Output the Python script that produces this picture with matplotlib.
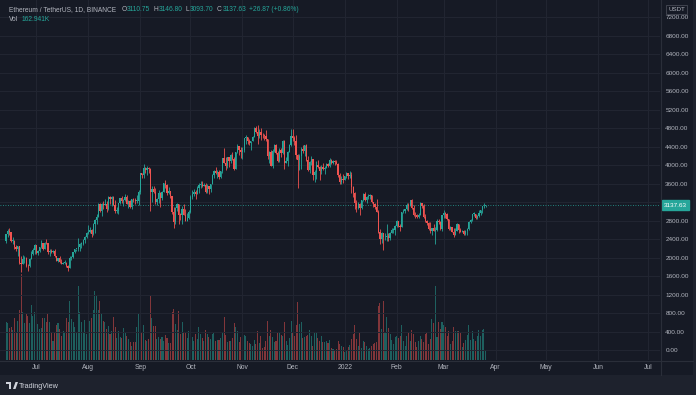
import pandas as pd
import matplotlib
matplotlib.use("Agg")
import matplotlib.pyplot as plt
import matplotlib.dates as mdates
import matplotlib.transforms as mtransforms
from matplotlib.patches import Rectangle, Polygon
from matplotlib.lines import Line2D

# ETH/USDT daily candles, 2021-06-13 .. 2022-03-26
start_date = "2021-06-13"
first_open = 2370
last_change = 26.87      # change shown in the header
last_change_pct = 0.86

closes = [
    # Jun
    2510, 2590, 2550, 2365, 2370, 2230, 2180, 2245, 1890, 1875, 1970, 1990, 1830, 1815, 1975, 2085, 2165, 2275,
    # Jul
    2110, 2150, 2225, 2325, 2200, 2320, 2315, 2115, 2150, 2135, 2140, 2035, 1940, 1995, 1915, 1875,
    1895, 1895, 1820, 1785, 1995, 2025, 2125, 2190, 2190, 2230, 2300, 2300, 2380, 2460, 2535,
    # Aug
    2555, 2610, 2505, 2725, 2825, 2890, 3155, 3010, 3165, 3140, 3165, 3045, 3320, 3265, 3310, 3150,
    3010, 3015, 3180, 3285, 3225, 3240, 3325, 3170, 3225, 3100, 3270, 3245, 3225, 3225, 3430,
    # Sep
    3825, 3790, 3940, 3890, 3950, 3925, 3430, 3495, 3425, 3205, 3265, 3410, 3285, 3430, 3615,
    3570, 3400, 3435, 3330, 2980, 2765, 3080, 3155, 2930, 2925, 3065, 2930, 2805, 2850, 3000,
    # Oct
    3310, 3390, 3420, 3385, 3515, 3580, 3590, 3560, 3575, 3415, 3545, 3490, 3605, 3790, 3870, 3830,
    3850, 3745, 3875, 4155, 4055, 3975, 4170, 4085, 4220, 4130, 3925, 4285, 4415, 4325, 4290,
    # Nov
    4320, 4590, 4605, 4530, 4475, 4520, 4610, 4805, 4730, 4635, 4725, 4665, 4645, 4625, 4560,
    4210, 4290, 3990, 4300, 4440, 4255, 4095, 4340, 4270, 4520, 4040, 4095, 4295, 4440, 4630,
    # Dec
    4585, 4515, 4220, 4120, 4195, 4350, 4310, 4430, 4110, 3895, 4075, 4130, 3780, 3860, 4015, 3960,
    3880, 3960, 3925, 3940, 4025, 3980, 4110, 4045, 4095, 4065, 4035, 3795, 3630, 3710, 3680,
    # Jan
    3765, 3830, 3760, 3790, 3540, 3410, 3190, 3085, 3155, 3080, 3240, 3370, 3245, 3305, 3330, 3350,
    3210, 3165, 3095, 3000, 2560, 2405, 2535, 2440, 2455, 2465, 2420, 2545, 2600, 2600, 2690,
    # Feb
    2790, 2680, 2660, 2990, 3015, 3060, 3140, 3125, 3240, 3080, 2925, 2915, 2875, 2930,
    3185, 3125, 2885, 2785, 2760, 2620, 2570, 2635, 2585, 2600, 2790, 2780, 2620, 2920,
    # Mar
    2970, 2950, 2835, 2620, 2665, 2555, 2495, 2575, 2730, 2605, 2560, 2570, 2515,
    2590, 2620, 2770, 2815, 2945, 2950, 2860, 2895, 2970, 3030, 3110, 3110.75, 3137.63,
]

highs = [
    2520, 2620, 2640, 2560, 2460, 2380, 2280, 2265, 2265, 2045, 2055, 2030, 2010, 1865, 1985, 2145, 2210, 2290,
    2275, 2165, 2240, 2390, 2320, 2350, 2410, 2325, 2190, 2200, 2160, 2185, 2045, 2005, 2035, 1965,
    1915, 1960, 1900, 1835, 2045, 2045, 2130, 2195, 2200, 2430, 2320, 2335, 2400, 2470, 2550,
    2700, 2665, 2630, 2760, 2845, 2950, 3180, 3185, 3185, 3230, 3275, 3230, 3330, 3335, 3330, 3335,
    3245, 3100, 3185, 3295, 3340, 3270, 3375, 3360, 3250, 3250, 3280, 3295, 3285, 3350, 3470,
    3840, 3840, 4025, 3970, 3975, 3970, 3945, 3545, 3550, 3510, 3285, 3460, 3415, 3450, 3620,
    3680, 3585, 3540, 3440, 3345, 3095, 3100, 3175, 3170, 2970, 3120, 3155, 3065, 2970, 3030,
    3365, 3470, 3490, 3455, 3545, 3620, 3655, 3670, 3625, 3610, 3600, 3545, 3605, 3805, 3895, 3960,
    3905, 3905, 3880, 4165, 4375, 4170, 4180, 4185, 4235, 4290, 4185, 4295, 4460, 4420, 4395,
    4385, 4600, 4665, 4620, 4575, 4530, 4630, 4825, 4840, 4870, 4780, 4810, 4705, 4680, 4770,
    4570, 4300, 4340, 4345, 4450, 4465, 4310, 4380, 4370, 4555, 4550, 4175, 4300, 4460, 4780,
    4780, 4640, 4650, 4235, 4235, 4385, 4445, 4445, 4470, 4195, 4100, 4195, 4145, 3890, 4090, 4105,
    3985, 4000, 4040, 3975, 4045, 4060, 4150, 4140, 4120, 4110, 4125, 4040, 3830, 3770, 3810,
    3770, 3855, 3840, 3880, 3845, 3555, 3420, 3240, 3215, 3190, 3260, 3410, 3415, 3340, 3370, 3375,
    3360, 3215, 3190, 3280, 3040, 2620, 2550, 2535, 2530, 2725, 2530, 2555, 2640, 2645, 2705,
    2815, 2800, 2720, 3000, 3055, 3065, 3190, 3175, 3250, 3280, 3135, 2985, 2950, 2970,
    3200, 3190, 3155, 2940, 2820, 2765, 2765, 2650, 2740, 2655, 2845, 2840, 2800, 2935,
    3040, 3000, 2970, 2840, 2680, 2665, 2635, 2645, 2760, 2730, 2645, 2610, 2605,
    2605, 2650, 2790, 2835, 2955, 3000, 2955, 2925, 3040, 3040, 3125, 3195, 3146.80,
]

lows = [
    2320, 2440, 2500, 2340, 2295, 2180, 2140, 2040, 1860, 1700, 1855, 1890, 1805, 1720, 1805, 1970, 2065, 2090,
    2085, 2060, 2125, 2210, 2165, 2200, 2305, 2085, 2045, 2100, 2095, 2020, 1940, 1900, 1895, 1855,
    1860, 1870, 1810, 1720, 1780, 1955, 1985, 2095, 2140, 2155, 2150, 2220, 2270, 2315, 2430,
    2515, 2545, 2450, 2485, 2530, 2725, 2885, 2985, 2905, 3055, 3140, 2995, 3030, 3155, 3115, 3140,
    2970, 2960, 2940, 3165, 3180, 3120, 3225, 3155, 3085, 3075, 3060, 3215, 3170, 3175, 3150,
    3385, 3715, 3725, 3835, 3800, 3840, 3010, 3200, 3410, 3160, 3150, 3180, 3100, 3250, 3425,
    3510, 3350, 3375, 3300, 2955, 2650, 2740, 3010, 2735, 2825, 2735, 2925, 2790, 2800, 2840,
    2975, 3270, 3335, 3275, 3375, 3410, 3500, 3535, 3545, 3400, 3405, 3380, 3430, 3585, 3730, 3810,
    3720, 3695, 3720, 3830, 4040, 3900, 3950, 3965, 4055, 4120, 3890, 3910, 4265, 4230, 4150,
    4145, 4295, 4455, 4460, 4430, 4330, 4515, 4610, 4705, 4450, 4590, 4550, 4590, 4545, 4530,
    4140, 4060, 3980, 3945, 4280, 4250, 4070, 4070, 4185, 4250, 3925, 4040, 3990, 4280, 4410,
    4520, 4435, 4145, 3500, 3900, 3930, 4270, 4210, 4090, 3880, 3840, 4010, 3680, 3640, 3700, 3945,
    3675, 3805, 3900, 3810, 3935, 3960, 3955, 4025, 4030, 4000, 4030, 3755, 3600, 3600, 3620,
    3680, 3720, 3700, 3720, 3400, 3305, 3055, 2995, 3060, 2930, 3065, 3230, 3235, 3195, 3275, 3270,
    3180, 3100, 3060, 2995, 2530, 2300, 2330, 2160, 2380, 2360, 2360, 2395, 2530, 2545, 2485,
    2675, 2665, 2585, 2655, 2975, 2965, 3040, 3015, 3120, 3050, 2900, 2860, 2850, 2850,
    2935, 3085, 2860, 2770, 2710, 2605, 2530, 2500, 2580, 2300, 2570, 2740, 2595, 2575,
    2860, 2870, 2815, 2605, 2595, 2550, 2455, 2485, 2575, 2545, 2550, 2555, 2500,
    2500, 2500, 2610, 2750, 2785, 2895, 2835, 2830, 2885, 2930, 2975, 3075, 3093.70,
]

# volume in thousands of ETH
volumes = [
    619, 603, 522, 538, 489, 685, 440, 636, 815, 1402, 782, 603, 750, 717, 603, 897, 717, 782,
    685, 587, 505, 522, 685, 685, 619, 766, 619, 456, 310, 440, 571, 603, 505, 391, 473, 456,
    685, 619, 962, 668, 619, 538, 456, 1206, 782, 619, 456, 652, 424,
    734, 636, 685, 815, 1125, 1043, 815, 962, 766, 636, 619, 505, 554, 424, 473, 701,
    538, 359, 473, 375, 359, 522, 440, 391, 342, 293, 228, 293, 293, 538, 750,
    734, 456, 571, 326, 310, 342, 1043, 685, 554, 554, 342, 375, 342, 375, 310,
    408, 359, 277, 277, 782, 831, 587, 489, 799, 424, 619, 456, 456, 359, 473,
    554, 375, 310, 424, 342, 538, 424, 359, 310, 489, 424, 375, 342, 424, 440, 310,
    326, 326, 359, 456, 701, 408, 293, 310, 310, 359, 603, 538, 473, 293, 375,
    359, 408, 391, 310, 277, 261, 228, 326, 261, 473, 277, 391, 196, 212, 310,
    636, 391, 489, 375, 293, 310, 440, 456, 408, 391, 619, 310, 245, 359, 636,
    456, 391, 571, 945, 587, 619, 359, 375, 391, 408, 489, 391, 228, 456, 456, 359,
    310, 391, 293, 293, 310, 277, 326, 196, 179, 163, 179, 310, 261, 228, 212,
    130, 147, 212, 245, 342, 424, 571, 342, 228, 456, 196, 310, 293, 228, 179, 196,
    228, 261, 277, 293, 880, 929, 505, 962, 456, 701, 522, 424, 326, 261, 375,
    391, 359, 391, 571, 310, 228, 391, 456, 310, 489, 424, 293, 212, 310,
    391, 342, 293, 424, 440, 261, 342, 668, 603, 1206, 375, 619, 505, 619,
    571, 538, 391, 473, 261, 310, 538, 473, 473, 473, 440, 212, 277,
    326, 408, 571, 326, 473, 342, 310, 391, 489, 391, 489, 505, 162.941,
]

month_ticks = ["2021-07-01", "2021-08-01", "2021-09-01", "2021-10-01", "2021-11-01", "2021-12-01",
               "2022-01-01", "2022-02-01", "2022-03-01", "2022-04-01", "2022-05-01", "2022-06-01",
               "2022-07-01"]
month_labels = ["Jul", "Aug", "Sep", "Oct", "Nov", "Dec", "2022", "Feb", "Mar", "Apr", "May", "Jun", "Jul"]
price_ticks = list(range(0, 7201, 400))

# colours
BG = "#161a25"
FOOT = "#1e222d"
GRID = "#222632"
SEP = "#2a2e39"
TXT = "#b2b5be"
UP = "#26a69a"
DOWN = "#ef5350"

plt.rcParams["font.family"] = ["Liberation Sans", "DejaVu Sans"]

opens = [first_open] + closes[:-1]
dates = pd.date_range(start_date, periods=len(closes), freq="D")
x = mdates.date2num(dates)
cols = [UP if c >= o else DOWN for o, c in zip(opens, closes)]

W, H = 696, 395
fig = plt.figure(figsize=(W / 100, H / 100), dpi=100)
fig.patch.set_facecolor(FOOT)
fig.add_artist(Rectangle((0, 1 - 375 / H), 693 / W, 375 / H, transform=fig.transFigure,
                         facecolor=BG, edgecolor="none", zorder=0))

rect = [0, 1 - 360 / H, 660 / W, 360 / H]
axv = fig.add_axes(rect)
ax = fig.add_axes(rect)
for a in (axv, ax):
    a.patch.set_visible(False)
    for s in a.spines.values():
        s.set_visible(False)

x0 = x[0] - 3.6
x1 = x[0] + 390
ax.set_xlim(x0, x1)
axv.set_xlim(x0, x1)
ax.set_ylim(-210, 7574)
axv.set_ylim(0, 5868)

# volume
axv.bar(x, volumes, width=0.62, color=cols, alpha=0.5, linewidth=0)
axv.set_xticks([])
axv.set_yticks([])

last = closes[-1]

# grid + axis labels
ax.set_xticks(mdates.date2num(pd.to_datetime(month_ticks)))
ax.set_xticklabels(month_labels)
ax.set_yticks(price_ticks)
# the label nearest the last-price tag is hidden behind it, as on the chart
ax.set_yticklabels(["" if abs(p - last) < 200 else f"{p:.2f}" for p in price_ticks])
ax.grid(True, color=GRID, linewidth=0.7)
ax.set_axisbelow(True)
ax.yaxis.tick_right()
ax.tick_params(axis="y", length=0, pad=3.8, labelsize=4.6, labelcolor=TXT)
ax.tick_params(axis="x", length=0, pad=3.2, labelsize=4.9, labelcolor=TXT)

# candles
ax.vlines(x, lows, highs, colors=cols, linewidth=0.6, zorder=2)
bodies = [max(abs(c - o), 15) for o, c in zip(opens, closes)]
bottoms = [min(o, c) for o, c in zip(opens, closes)]
ax.bar(x, bodies, bottom=bottoms, width=0.75, color=cols, linewidth=0, zorder=3)

# last price line and tag
ax.axhline(last, color=UP, linestyle=(0, (1, 2)), linewidth=0.6, zorder=1)
trans = mtransforms.blended_transform_factory(ax.transAxes, ax.transData)
ax.text(1 + 4 / 660, last, f"{last:.2f}", transform=trans, ha="left", va="center",
        fontsize=4.6, color="white", clip_on=False, zorder=5,
        bbox=dict(boxstyle="square,pad=0.35", facecolor=UP, edgecolor=UP))

# separators
fig.add_artist(Line2D([660.5 / W, 660.5 / W], [1 - 375 / H, 1], transform=fig.transFigure,
                      color=SEP, linewidth=0.8))
fig.add_artist(Line2D([0, 693 / W], [1 - 360.5 / H, 1 - 360.5 / H], transform=fig.transFigure,
                      color=SEP, linewidth=0.8))

# USDT tag
fig.add_artist(Rectangle((666 / W, 1 - 13.5 / H), 21 / W, 8.5 / H, transform=fig.transFigure,
                         facecolor=BG, edgecolor="#50535e", linewidth=0.5, zorder=4))
fig.text(676.5 / W, 1 - 9.3 / H, "USDT", ha="center", va="center", fontsize=4.4, color=TXT, zorder=5)

# header line, laid out piece by piece
renderer = fig.canvas.get_renderer()


def row(px, py, pieces, size=4.8):
    for s, c, gap in pieces:
        t = fig.text(px / W, 1 - py / H, s, ha="left", va="center", fontsize=size, color=c)
        px += t.get_window_extent(renderer).width + gap


row(9, 9.3, [("Ethereum / TetherUS, 1D, BINANCE", TXT, 5),
             ("O", TXT, 0.8), (f"{opens[-1]:.2f}", UP, 3),
             ("H", TXT, 0.8), (f"{highs[-1]:.2f}", UP, 3),
             ("L", TXT, 0.8), (f"{lows[-1]:.2f}", UP, 3),
             ("C", TXT, 0.8), (f"{closes[-1]:.2f}", UP, 3),
             (f"+{last_change:.2f} (+{last_change_pct:.2f}%)", UP, 0)])
row(9, 19.3, [("Vol", TXT, 3), (f"{volumes[-1]:.3f}K", UP, 0)])

# TradingView footer logo
logo = "#d1d4dc"
fig.add_artist(Rectangle((6 / W, 1 - 384 / H), 5 / W, 2 / H, transform=fig.transFigure,
                         facecolor=logo, edgecolor="none"))
fig.add_artist(Rectangle((8.5 / W, 1 - 389 / H), 2.5 / W, 5 / H, transform=fig.transFigure,
                         facecolor=logo, edgecolor="none"))
fig.add_artist(Polygon([(13 / W, 1 - 389 / H), (15.5 / W, 1 - 382 / H), (18 / W, 1 - 382 / H),
                        (15.5 / W, 1 - 389 / H)], closed=True, transform=fig.transFigure,
                       facecolor=logo, edgecolor="none"))
fig.text(19 / W, 1 - 386 / H, "TradingView", ha="left", va="center", fontsize=5.2, color=logo)

fig.savefig("out.png", dpi=100, facecolor=fig.get_facecolor())
